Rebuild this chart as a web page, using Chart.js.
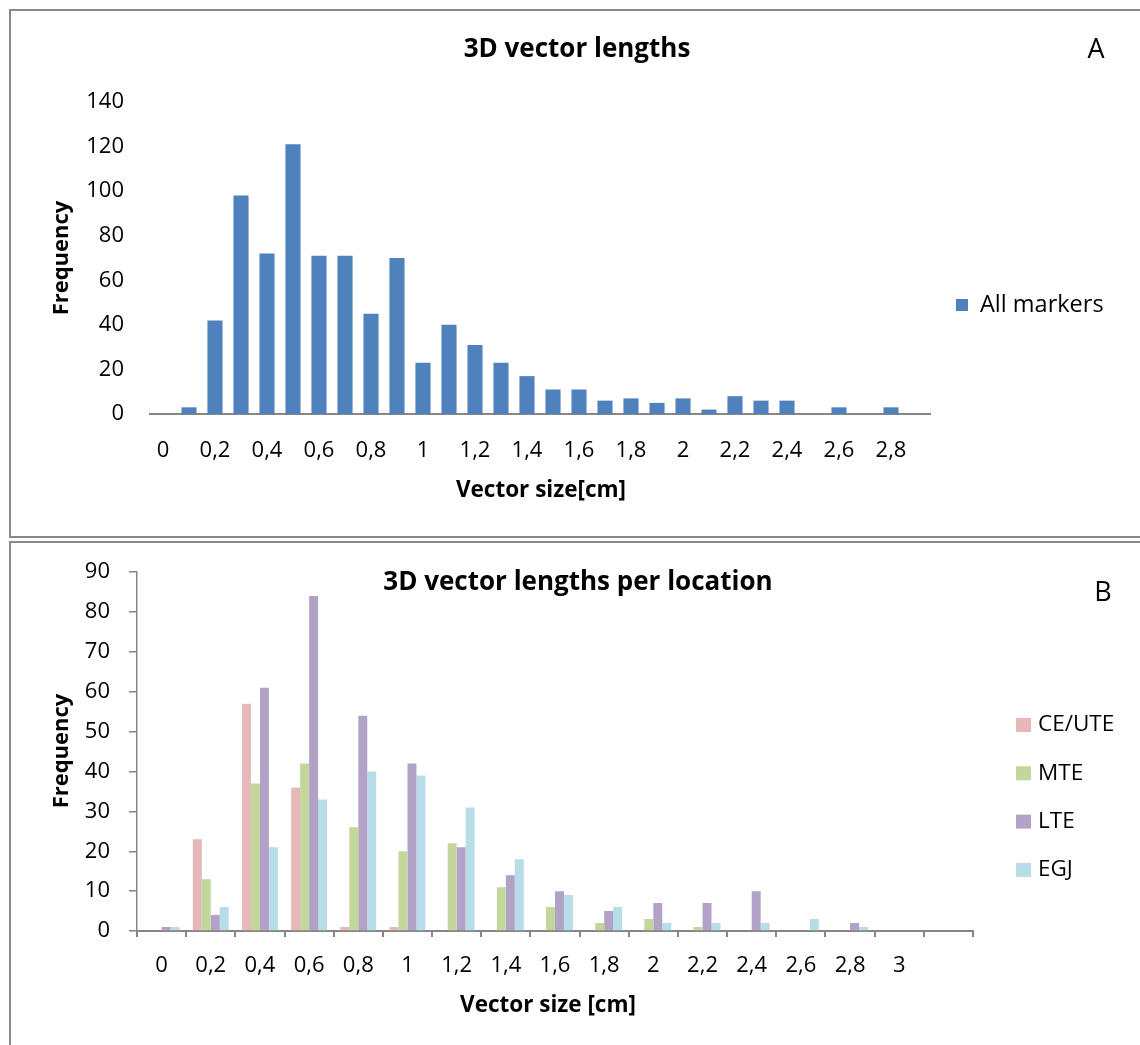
<!DOCTYPE html>
<html><head><meta charset="utf-8">
<script src="https://cdn.jsdelivr.net/npm/chart.js@4.4.1/dist/chart.umd.min.js"></script>
<style>
html,body{margin:0;padding:0;background:#fff;width:1140px;height:1045px;overflow:hidden;}
canvas{position:absolute;left:0;}
#c1{top:0;}
#c2{top:540px;}
.frame{position:absolute;border:2px solid #8a8a8a;box-sizing:border-box;}
</style></head><body>
<div class="frame" style="left:9px;top:9px;width:1150px;height:529px;"></div>
<div class="frame" style="left:9px;top:541px;width:1150px;height:530px;"></div>
<canvas id="c1" width="1140" height="540"></canvas>
<canvas id="c2" width="1140" height="505"></canvas>
<script>
// ---- Data: panel A ----
const binsA = ['0','0,1','0,2','0,3','0,4','0,5','0,6','0,7','0,8','0,9','1','1,1','1,2','1,3','1,4','1,5','1,6','1,7','1,8','1,9','2','2,1','2,2','2,3','2,4','2,5','2,6','2,7','2,8','2,9'];
const allMarkers = [0,3,42,98,72,121,71,71,45,70,23,40,31,23,17,11,11,6,7,5,7,2,8,6,6,0,3,0,3,0];
const yTicksA = [0,20,40,60,80,100,120,140];

// ---- Data: panel B ----
const binsB = ['0','0,2','0,4','0,6','0,8','1','1,2','1,4','1,6','1,8','2','2,2','2,4','2,6','2,8','3',''];
const ceUte = [0,23,57,36,1,1,0,0,0,0,0,0,0,0,0,0,0];
const mte   = [0,13,37,42,26,20,22,11,6,2,3,1,0,0,0,0,0];
const lte   = [1,4,61,84,54,42,21,14,10,5,7,7,10,0,2,0,0];
const egj   = [1,6,21,33,40,39,31,18,9,6,2,2,2,3,1,0,0];
const yTicksB = [0,10,20,30,40,50,60,70,80,90];

const FONT = '"Open Sans", "Noto Sans", sans-serif';
const AXIS = '#868686';

const textPlugin = {
  id: 'panelText',
  afterDraw(chart, args, opts) {
    const ctx = chart.ctx;
    ctx.save();
    ctx.textBaseline = 'middle';
    (opts.items || []).forEach(it => {
      ctx.font = (it.weight || 'normal') + ' ' + it.size + 'px ' + FONT;
      ctx.fillStyle = '#000';
      ctx.textAlign = 'center';
      if (it.rotate) {
        ctx.save(); ctx.translate(it.x, it.y); ctx.rotate(-Math.PI / 2);
        ctx.fillText(it.text, 0, 0); ctx.restore();
      } else {
        ctx.fillText(it.text, it.x, it.y);
      }
    });
    const lg = opts.legend;
    if (lg) {
      chart.data.datasets.forEach((ds, i) => {
        const y = lg.y + i * lg.gap;
        ctx.fillStyle = ds.backgroundColor;
        ctx.fillRect(lg.x, y - lg.bh / 2, lg.bw, lg.bh);
        ctx.fillStyle = '#000';
        ctx.textAlign = 'left';
        ctx.font = lg.size + 'px ' + FONT;
        ctx.fillText(ds.label, lg.tx, y);
      });
    }
    ctx.restore();
  }
};

const tickFont = {family: FONT, size: 22};

new Chart(document.getElementById('c1'), {
  type: 'bar',
  data: {
    labels: binsA,
    datasets: [{label: 'All markers', data: allMarkers, backgroundColor: '#4F81BD',
      categoryPercentage: 1, barPercentage: 0.58}]
  },
  options: {
    responsive: false, animation: false,
    layout: {padding: {left: 0, top: 102, right: 210, bottom: 46}},
    plugins: {
      legend: {display: false}, title: {display: false}, tooltip: {enabled: false},
      panelText: {
        items: [
          {text: '3D vector lengths', x: 577, y: 50, size: 26, weight: 'bold'},
          {text: 'A', x: 1096, y: 50, size: 27},
          {text: 'Frequency', x: 62, y: 258, size: 22, weight: 'bold', rotate: true},
          {text: 'Vector size[cm]', x: 541, y: 491, size: 22.5, weight: 'bold'}
        ],
        legend: {x: 956, tx: 980, y: 305, gap: 0, bw: 12, bh: 12, size: 23.5}
      }
    },
    scales: {
      x: {
        grid: {display: false, drawTicks: false},
        border: {display: true, color: AXIS, width: 2},
        ticks: {autoSkip: false, maxRotation: 0, minRotation: 0, padding: 24, font: tickFont, color: '#000',
          callback: function (v, i) { return i % 2 === 0 ? this.getLabelForValue(v) : ''; }},
        afterFit(s) { s.height = 80; }
      },
      y: {
        min: 0, max: 140,
        afterBuildTicks(s) { s.ticks = yTicksA.map(v => ({value: v})); },
        grid: {display: false, drawTicks: false},
        border: {display: false},
        ticks: {padding: 26, font: tickFont, color: '#000'},
        afterFit(s) { s.width = 150; }
      }
    }
  },
  plugins: [textPlugin]
});

new Chart(document.getElementById('c2'), {
  type: 'bar',
  data: {
    labels: binsB,
    datasets: [
      {label: 'CE/UTE', data: ceUte, backgroundColor: '#E6B9B8'},
      {label: 'MTE', data: mte, backgroundColor: '#C3D69B'},
      {label: 'LTE', data: lte, backgroundColor: '#B3A2C7'},
      {label: 'EGJ', data: egj, backgroundColor: '#B7DEE8'}
    ]
  },
  options: {
    responsive: false, animation: false,
    datasets: {bar: {categoryPercentage: 0.73, barPercentage: 1}},
    layout: {padding: {left: 0, top: 31, right: 167, bottom: 44}},
    plugins: {
      legend: {display: false}, title: {display: false}, tooltip: {enabled: false},
      panelText: {
        items: [
          {text: '3D vector lengths per location', x: 578, y: 43, size: 26, weight: 'bold'},
          {text: 'B', x: 1103, y: 53, size: 27},
          {text: 'Frequency', x: 62, y: 211, size: 22, weight: 'bold', rotate: true},
          {text: 'Vector size [cm]', x: 548, y: 466, size: 22.5, weight: 'bold'}
        ],
        legend: {x: 1016, tx: 1038, y: 185, gap: 48.3, bw: 15, bh: 14, size: 22.5}
      }
    },
    scales: {
      x: {
        offset: true,
        grid: {display: true, drawOnChartArea: false, drawTicks: true, tickLength: 6, color: AXIS, lineWidth: 2, offset: true},
        border: {display: true, color: AXIS, width: 2},
        ticks: {autoSkip: false, maxRotation: 0, minRotation: 0, padding: 16, font: tickFont, color: '#000'},
        afterFit(s) { s.height = 70; }
      },
      y: {
        min: 0, max: 90,
        afterBuildTicks(s) { s.ticks = yTicksB.map(v => ({value: v})); },
        grid: {display: true, drawOnChartArea: false, drawTicks: true, tickLength: 8, color: AXIS, lineWidth: 1.5},
        border: {display: true, color: AXIS, width: 1.5},
        ticks: {padding: 19, font: tickFont, color: '#000'},
        afterFit(s) { s.width = 137; }
      }
    }
  },
  plugins: [textPlugin]
});
</script>
</body></html>
